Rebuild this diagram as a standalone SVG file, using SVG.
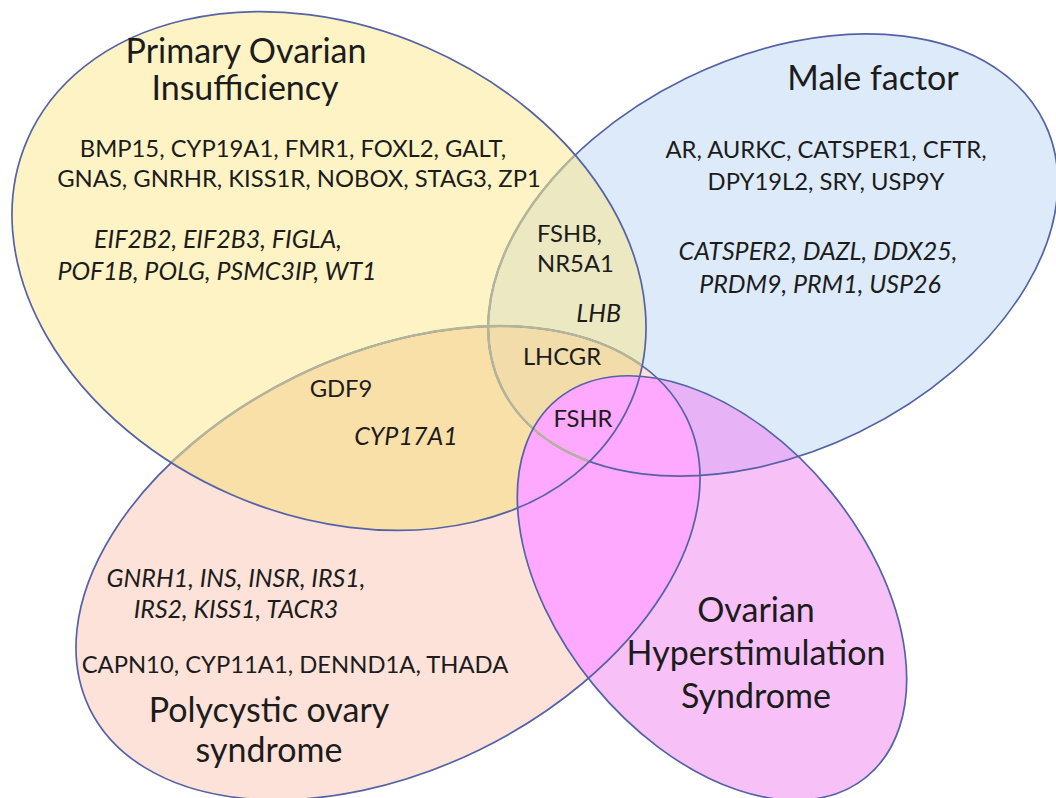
<svg xmlns="http://www.w3.org/2000/svg" width="1056" height="798" viewBox="0 0 1056 798">
<style>
  text { font-family: Lato, "Open Sans", "Liberation Sans", sans-serif; fill: #1c1c1c; }
  .t { font-size: 34px; text-anchor: middle; }
  .g { font-size: 23.8px; text-anchor: middle; }
  .i { font-style: italic; font-size: 25px; }
  .edge { fill: none; stroke: #5563A6; stroke-width: 1.7; }
  .faint { fill: none; stroke: #B4B598; stroke-width: 2.4; }
</style>
<defs>
  <ellipse id="eP" cx="329" cy="271" rx="329" ry="244" transform="rotate(23.5 329 271)"/>
  <ellipse id="eM" cx="773" cy="255" rx="302" ry="197" transform="rotate(-26 773 255)"/>
  <ellipse id="eC" cx="388" cy="563" rx="332" ry="208" transform="rotate(-26 388 563)"/>
  <ellipse id="eO" cx="712" cy="588" rx="244" ry="153" transform="rotate(50.7 712 588)"/>
  <clipPath id="cP"><use href="#eP"/></clipPath>
  <clipPath id="cC"><use href="#eC"/></clipPath>
  <clipPath id="cO"><use href="#eO"/></clipPath>
  <clipPath id="cM"><use href="#eM"/></clipPath>
</defs>
<rect width="1056" height="798" fill="#ffffff"/>
<g id="fills">
  <use href="#eM" fill="#DCEAFA"/>
  <use href="#eC" fill="#FCE2D8"/>
  <use href="#eP" fill="#FEF3C5"/>
  <g clip-path="url(#cP)">
    <use href="#eM" fill="#EBE8C2"/>
    <use href="#eC" fill="#F9E0A9"/>
    <g clip-path="url(#cC)"><use href="#eM" fill="#F2DCAA"/></g>
  </g>
  <use href="#eO" fill="#F7C1F8"/>
  <g clip-path="url(#cO)">
    <use href="#eM" fill="#E7B3F6"/>
    <use href="#eC" fill="#FEA8FE"/>
  </g>
</g>
<g id="outlines">
  <use href="#eM" class="edge"/>
  <use href="#eC" class="edge"/>
  <g clip-path="url(#cP)">
    <use href="#eM" class="faint"/>
    <use href="#eC" class="faint"/>
  </g>
  <use href="#eP" class="edge"/>
  <use href="#eO" class="edge"/>
</g>
<g id="poi">
  <text class="t" x="246" y="63">Primary Ovarian</text>
  <text class="t" x="245" y="100">Insufficiency</text>
  <text class="g" x="293" y="157">BMP15, CYP19A1, FMR1, FOXL2, GALT,</text>
  <text class="g" x="299" y="187">GNAS, GNRHR, KISS1R, NOBOX, STAG3, ZP1</text>
  <text class="g i" x="218" y="248">EIF2B2, EIF2B3, FIGLA,</text>
  <text class="g i" x="217" y="280">POF1B, POLG, PSMC3IP, WT1</text>
</g>
<g id="poi-pcos">
  <text class="g" x="341" y="397">GDF9</text>
  <text class="g i" x="406" y="445">CYP17A1</text>
</g>
<g id="poi-male">
  <text class="g" x="537" y="242" style="text-anchor:start">FSHB,</text>
  <text class="g" x="537" y="272" style="text-anchor:start">NR5A1</text>
  <text class="g i" x="621" y="322" style="text-anchor:end">LHB</text>
</g>
<g id="poi-male-pcos">
  <text class="g" x="562" y="365">LHCGR</text>
</g>
<g id="all-four">
  <text class="g" x="583" y="427">FSHR</text>
</g>
<g id="male">
  <text class="t" x="873" y="90">Male factor</text>
  <text class="g" x="826" y="158">AR, AURKC, CATSPER1, CFTR,</text>
  <text class="g" x="826" y="190">DPY19L2, SRY, USP9Y</text>
  <text class="g i" x="818" y="260">CATSPER2, DAZL, DDX25,</text>
  <text class="g i" x="820" y="293">PRDM9, PRM1, USP26</text>
</g>
<g id="pcos">
  <text class="g i" x="236" y="587">GNRH1, INS, INSR, IRS1,</text>
  <text class="g i" x="236" y="618">IRS2, KISS1, TACR3</text>
  <text class="g" x="295" y="673">CAPN10, CYP11A1, DENND1A, THADA</text>
  <text class="t" x="269" y="722">Polycystic ovary</text>
  <text class="t" x="269" y="762">syndrome</text>
</g>
<g id="ohss">
  <text class="t" x="756" y="622">Ovarian</text>
  <text class="t" x="756" y="665">Hyperstimulation</text>
  <text class="t" x="756" y="708">Syndrome</text>
</g>
</svg>
